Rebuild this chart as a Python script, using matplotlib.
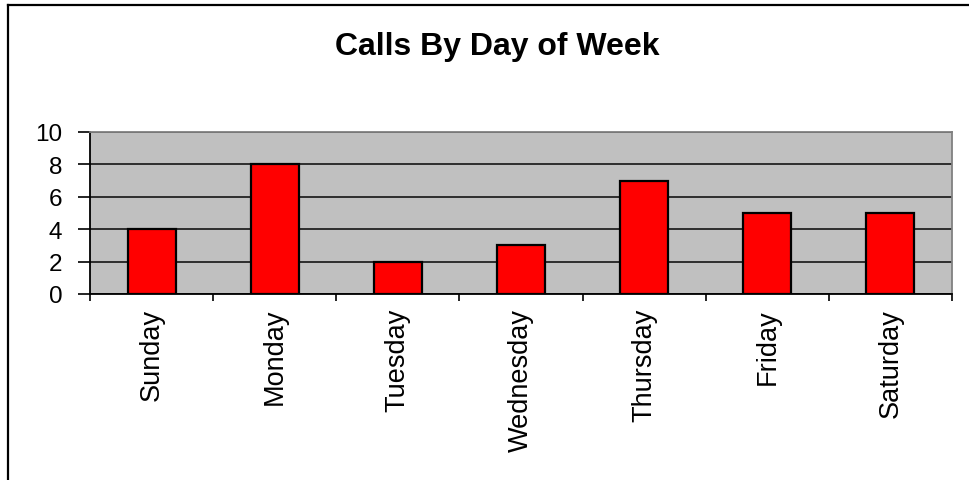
import matplotlib.pyplot as plt
import numpy as np
from matplotlib.lines import Line2D

days = ['Sunday', 'Monday', 'Tuesday', 'Wednesday', 'Thursday', 'Friday', 'Saturday']
calls = [4, 8, 2, 3, 7, 5, 5]
y_ticks = [0, 2, 4, 6, 8, 10]

plt.rcParams['font.family'] = ['Liberation Sans', 'DejaVu Sans']

fig = plt.figure(figsize=(9.69, 4.81), dpi=100)
ax = fig.add_axes([90 / 969, 1 - 295 / 481, 862 / 969, 162 / 481])

x = np.arange(len(days))
ax.set_facecolor('#c0c0c0')
ax.bar(x, calls, width=0.39, color='#ff0000', edgecolor='black', linewidth=1.6, zorder=3)

ax.set_xlim(-0.5, len(days) - 0.5)
ax.set_ylim(0, 10)
ax.set_yticks(y_ticks)
ax.set_yticklabels([str(v) for v in y_ticks], fontsize=17.5)
ax.yaxis.grid(True, color='#222222', linewidth=1.3, zorder=1)
ax.set_axisbelow(True)

ax.set_xticks(x)
ax.set_xticklabels(days, rotation=90, fontsize=19.5, va='top', ha='center')
ax.set_xticks(np.arange(len(days) + 1) - 0.5, minor=True)
ax.tick_params(axis='x', which='major', length=0, pad=10)
ax.tick_params(axis='x', which='minor', length=5, width=1.2, color='black')
ax.tick_params(axis='y', length=9, width=1.2, pad=11, color='black')

for side in ['left', 'bottom']:
    ax.spines[side].set_color('black')
    ax.spines[side].set_linewidth(1.3)
for side in ['top', 'right']:
    ax.spines[side].set_color('#808080')
    ax.spines[side].set_linewidth(1.3)

fig.text(497 / 969, 1 - 47 / 481, 'Calls By Day of Week', fontsize=23,
         fontweight='bold', ha='center', va='center')

# chart-area border (only left and top edges are visible)
fig.add_artist(Line2D([7.5 / 969, 7.5 / 969], [0, 1 - 5.5 / 481], color='black', linewidth=1.6))
fig.add_artist(Line2D([7.5 / 969, 1], [1 - 5.5 / 481, 1 - 5.5 / 481], color='black', linewidth=1.6))

fig.savefig('out.png', dpi=100)
